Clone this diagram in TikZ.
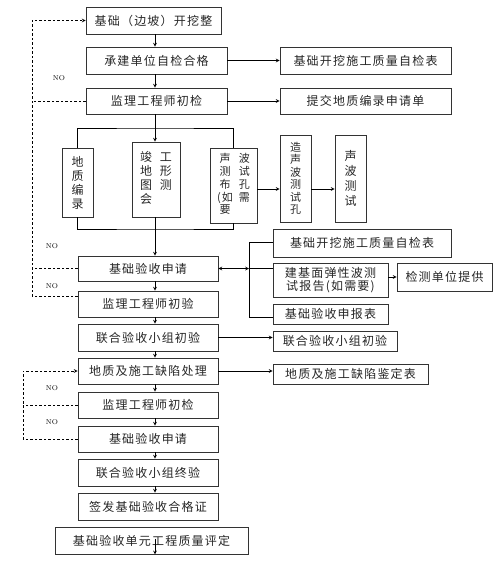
\documentclass[tikz,border=0pt]{standalone}
\usepackage{fontspec}
\usepackage{tikz}
\usetikzlibrary{calc}
\newfontfamily\cjk[LetterSpace=10]{Noto Sans CJK SC}

\tikzset{
	box/.style = {draw = black!80, line width = 0.8pt, inner sep = 0pt, font = \cjk\fontsize{12}{14}\selectfont, text = black!85, align = center},
	vbox/.style = {box, font = \cjk\fontsize{12}{14}\selectfont},
	arr/.style = {-stealth, line width = 0.7pt},
	link/.style = {line width = 0.7pt},
	nolink/.style = {line width = 0.7pt, dash pattern = on 2.5pt off 2pt},
	nolabel/.style = {font = \fontsize{7}{8}\selectfont}
}

\begin{document}
\begin{tikzpicture}[x = 1pt, y = -1pt]
					\def\xAX{155};
					\def\xNOa{32};
					\def\xNOb{23};

					\useasboundingbox (0,0) rectangle (500,566);

					% upper column
					\begin{scope}
						\node [box, minimum width = 135pt, minimum height = 27pt] (kaiwa) at (153.5,20.5) {基础（边坡）开挖整};
						\node [box, minimum width = 141pt, minimum height = 27pt] (zijian) at (156.5,60.5) {承建单位自检合格};
						\node [box, minimum width = 141pt, minimum height = 26pt] (chujian) at (156.5,101) {监理工程师初检};
						\node [box, minimum width = 171pt, minimum height = 27pt] (zijianbiao) at (365.5,60.5) {基础开挖施工质量自检表};
						\node [box, minimum width = 171pt, minimum height = 26pt] (shenqingdan) at (365.5,101) {提交地质编录申请单};
					\end{scope}

					% vertical boxes
					\begin{scope}
						\node [vbox, minimum width = 31pt, minimum height = 69pt] (bianlu) at (77.5,182.5) {地\\质\\编\\录};
						\node [vbox, minimum width = 48pt, minimum height = 75pt] (cehui) at (156,179.5)
							{\begin{tabular}{@{}c@{\hspace{8pt}}c@{}}竣&工\\地&形\\图&测\\会&\end{tabular}};
						\node [vbox, minimum width = 47pt, minimum height = 75pt, font = \cjk\fontsize{11}{12.5}\selectfont] (buzhi) at (233.5,185.5)
							{\begin{tabular}{@{}c@{\hspace{6pt}}c@{}}声&波\\测&试\\布&孔\\(如&需\\要&\end{tabular}};
						\node [vbox, minimum width = 31pt, minimum height = 87pt, font = \cjk\fontsize{11}{12.5}\selectfont] (zaokong) at (295.5,178.5) {造\\声\\波\\测\\试\\孔};
						\node [vbox, minimum width = 31pt, minimum height = 87pt, font = \cjk\fontsize{12}{15}\selectfont] (ceshi) at (350.5,178.5) {声\\波\\测\\试};
					\end{scope}

					% lower column
					\begin{scope}
						\node [box, minimum width = 140pt, minimum height = 25pt] (shenqing) at (148,268.5) {基础验收申请};
						\node [box, minimum width = 140pt, minimum height = 26pt] (chuyan) at (148,304) {监理工程师初验};
						\node [box, minimum width = 140pt, minimum height = 27pt] (zuchuyan) at (148,337.5) {联合验收小组初验};
						\node [box, minimum width = 140pt, minimum height = 26pt] (chuli) at (148,371) {地质及施工缺陷处理};
						\node [box, minimum width = 140pt, minimum height = 26pt] (chujianb) at (148,405) {监理工程师初检};
						\node [box, minimum width = 140pt, minimum height = 26pt] (shenqingb) at (148,439) {基础验收申请};
						\node [box, minimum width = 140pt, minimum height = 27pt] (zhongyan) at (148,472.5) {联合验收小组终验};
						\node [box, minimum width = 140pt, minimum height = 27pt] (hegezheng) at (148,506.5) {签发基础验收合格证};
						\node [box, minimum width = 193pt, minimum height = 27pt] (pingding) at (151.5,540.5) {基础验收单元工程质量评定};
					\end{scope}

					% lower right boxes
					\begin{scope}
						\node [box, minimum width = 178pt, minimum height = 28pt] (zijianbiaob) at (362,243) {基础开挖施工质量自检表};
						\node [box, minimum width = 115pt, minimum height = 34pt, font = \cjk\fontsize{12}{13}\selectfont] (baogao) at (330.5,280) {建基面弹性波测\\试报告(如需要)};
						\node [box, minimum width = 95pt, minimum height = 28pt] (tigong) at (444.5,277) {检测单位提供};
						\node [box, minimum width = 115pt, minimum height = 20pt] (shenbaobiao) at (330.5,314) {基础验收申报表};
						\node [box, minimum width = 124pt, minimum height = 20pt] (zuchuyanb) at (335,341) {联合验收小组初验};
						\node [box, minimum width = 155pt, minimum height = 20pt] (jiandingbiao) at (350.5,374) {地质及施工缺陷鉴定表};
					\end{scope}

					\coordinate (ax) at (\xAX,0);
					\coordinate (bt) at (\xAX,128);
					\coordinate (bb) at (\xAX,229);
					\coordinate (ya) at (0,189);
					\coordinate (jt) at (249,242);
					\coordinate (jb) at (249,317);

					% main flow
					\begin{scope}[arr]
						\draw (kaiwa.south -| ax) -- (zijian.north -| ax);
						\draw (zijian.south -| ax) -- (chujian.north -| ax);
						\draw (chujian.south -| ax) -- (cehui.north -| ax);
						\draw (cehui.south -| ax) -- (shenqing.north -| ax);
						\draw (shenqing.south -| ax) -- (chuyan.north -| ax);
						\draw (chuyan.south -| ax) -- (zuchuyan.north -| ax);
						\draw (zuchuyan.south -| ax) -- (chuli.north -| ax);
						\draw (chuli.south -| ax) -- (chujianb.north -| ax);
						\draw (chujianb.south -| ax) -- (shenqingb.north -| ax);
						\draw (shenqingb.south -| ax) -- (zhongyan.north -| ax);
						\draw (zhongyan.south -| ax) -- (hegezheng.north -| ax);
						\draw ([yshift = 2pt]pingding.center -| ax) -- (pingding.south -| ax);
					\end{scope}

					% side links
					\begin{scope}[arr]
						\draw (zijian.east) -- (zijianbiao.west);
						\draw (chujian.east) -- (shenqingdan.west);
						\draw (buzhi.east |- ya) -- (zaokong.west |- ya);
						\draw (zaokong.east |- ya) -- (ceshi.west |- ya);
						\draw (baogao.east |- tigong) -- (tigong.west);
						\draw (zuchuyan.east) -- (zuchuyanb.west |- zuchuyan);
						\draw (chuli.east) -- (jiandingbiao.west |- chuli);
					\end{scope}

					\begin{scope}[link]
						\draw (bianlu.north) |- (bt) -| (buzhi.north);
						\draw (bianlu.south) |- (bb) -| (buzhi.south);
						\draw (zijianbiaob.west |- jt) -- (jt) -- (jb) -- (shenbaobiao.west |- jb);
						\draw (shenqing.east -| jt) -- (baogao.west |- shenqing);
						\draw [stealth-stealth] (shenqing.east) -- (shenqing.east -| jt);
					\end{scope}

					% NO loops
					\begin{scope}[nolink]
						\draw [-stealth] ([yshift = 8pt]chuyan.west) -| (\xNOa,20.5) -- (kaiwa.west);
						\draw (chujian.west) -- (chujian.west -| {(\xNOa,0)});
						\draw (shenqing.west) -- (shenqing.west -| {(\xNOa,0)});
						\draw [-stealth] (shenqingb.west) -| (\xNOb,371) -- (chuli.west);
						\draw (chujianb.west) -- (chujianb.west -| {(\xNOb,0)});
					\end{scope}

					\begin{scope}[nolabel]
						\node (noa) at (59,78) {NO};
						\node (nob) at (52,246) {NO};
						\node (noc) at (52,286) {NO};
						\node (nod) at (52,388) {NO};
						\node (noe) at (52,422) {NO};
					\end{scope}
				\end{tikzpicture}
\end{document}
